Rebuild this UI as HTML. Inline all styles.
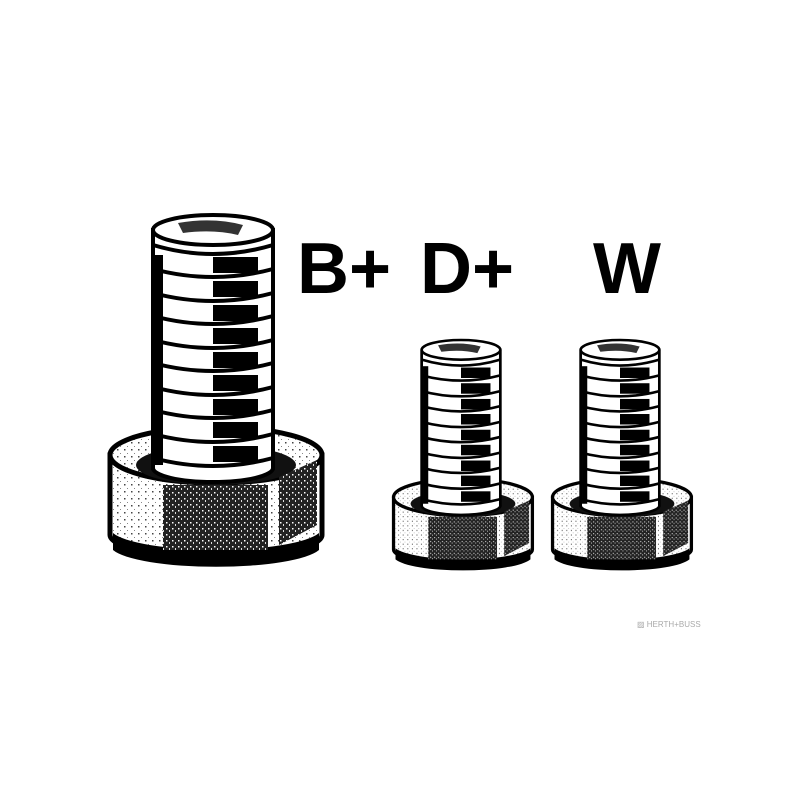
<!DOCTYPE html>
<html><head><style>
html,body{margin:0;padding:0;background:#fff;width:800px;height:800px;overflow:hidden}
</style></head><body>
<svg width="800" height="800" viewBox="0 0 800 800" xmlns="http://www.w3.org/2000/svg">
<defs>
<pattern id="spk" width="6" height="6" patternUnits="userSpaceOnUse">
<rect width="6" height="6" fill="#222"/>
<rect x="1" y="1" width="1.5" height="1.5" fill="#fff"/>
<rect x="4" y="3" width="1" height="2" fill="#ddd"/>
</pattern>
<pattern id="lt" width="7" height="7" patternUnits="userSpaceOnUse">
<rect width="7" height="7" fill="#fff"/>
<rect x="2" y="3" width="1.5" height="1.5" fill="#444"/>
<rect x="5" y="0" width="1" height="1" fill="#888"/>
</pattern>
<g id="bolt">
  <path d="M-103,240 L-103,320 A106,22 0 0 0 109,320 L109,240 Z" fill="url(#lt)" stroke="#000" stroke-width="5"/>
  <path d="M-100,318 A106,22 0 0 0 106,318 L106,335 A106,22 0 0 1 -100,335 Z" fill="#000"/>
  <ellipse cx="3" cy="240" rx="106" ry="28" fill="url(#lt)" stroke="#000" stroke-width="5"/>
  <ellipse cx="3" cy="250" rx="80" ry="20" fill="#111"/>
  <path d="M-50,270 L55,270 L55,335 L-50,335 Z" fill="url(#spk)"/>
  <path d="M66,262 L104,245 L104,310 L66,330 Z" fill="url(#spk)"/>
  <rect x="-60" y="15" width="120" height="238" fill="#fff" stroke="#000" stroke-width="4"/>
  <ellipse cx="0" cy="253" rx="60" ry="14" fill="#fff" stroke="#000" stroke-width="4"/>
  <rect x="-58" y="15" width="116" height="238" fill="#fff"/>
  <g fill="#000">
    <rect x="0" y="42" width="45" height="16"/>
    <rect x="0" y="66" width="45" height="16"/>
    <rect x="0" y="90" width="45" height="16"/>
    <rect x="0" y="113" width="45" height="16"/>
    <rect x="0" y="137" width="45" height="16"/>
    <rect x="0" y="160" width="45" height="16"/>
    <rect x="0" y="184" width="45" height="16"/>
    <rect x="0" y="207" width="45" height="16"/>
    <rect x="0" y="231" width="45" height="16"/>
    <rect x="-58" y="40" width="8" height="210"/>
  </g>
  <g fill="none" stroke="#000" stroke-width="4">
    <path d="M-60,30 Q0,48 60,30"/>
    <path d="M-60,54 Q0,70 60,54"/>
    <path d="M-60,78 Q0,94 60,78"/>
    <path d="M-60,101 Q0,117 60,101"/>
    <path d="M-60,125 Q0,141 60,125"/>
    <path d="M-60,148 Q0,164 60,148"/>
    <path d="M-60,172 Q0,188 60,172"/>
    <path d="M-60,195 Q0,211 60,195"/>
    <path d="M-60,219 Q0,235 60,219"/>
    <path d="M-60,243 Q0,259 60,243"/>
    <line x1="-60" y1="15" x2="-60" y2="253"/>
    <line x1="60" y1="15" x2="60" y2="253"/>
  </g>
  <ellipse cx="0" cy="15" rx="60" ry="15" fill="#fff" stroke="#000" stroke-width="4"/>
  <path d="M-35,8 Q0,2 30,10 L25,20 Q0,14 -30,18 Z" fill="#333"/>
</g>
</defs>
<use href="#bolt" transform="translate(213,215)"/>
<use href="#bolt" transform="translate(461,340) scale(0.655)"/>
<use href="#bolt" transform="translate(620,340) scale(0.655)"/>
<g font-family="Liberation Sans, sans-serif" font-weight="bold" font-size="72" fill="#000">
<text x="297" y="293">B+</text>
<text x="420" y="293">D+</text>
<text x="593" y="293">W</text>
</g>
<text x="637" y="627" font-family="Liberation Sans, sans-serif" font-size="8" fill="#aaa">▨ HERTH+BUSS</text>
</svg>
</body></html>
